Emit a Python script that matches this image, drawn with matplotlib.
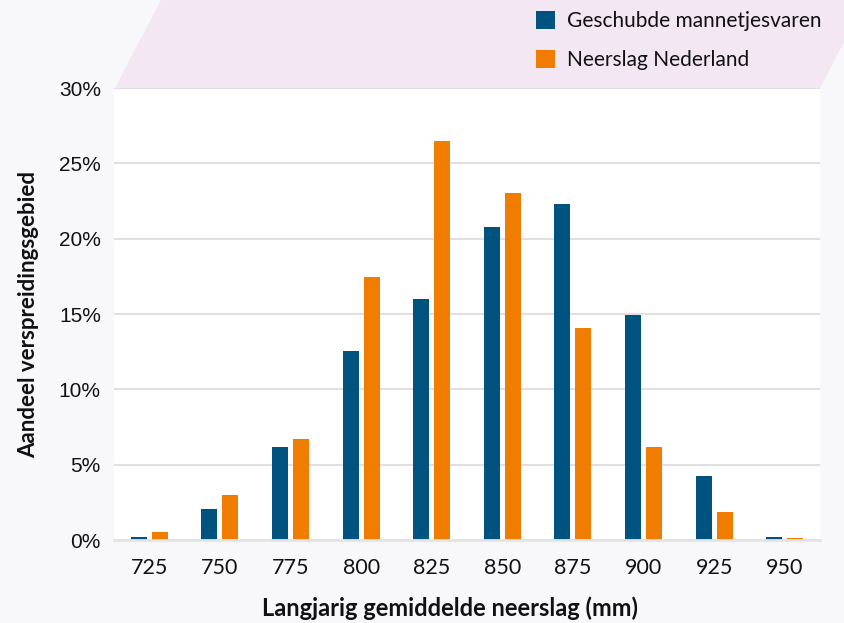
import numpy as np
from matplotlib import pyplot as plt
from matplotlib.patches import Polygon
from matplotlib.ticker import FuncFormatter

plt.rcParams['font.family'] = ['Lato', 'DejaVu Sans']

categorieen = ['725', '750', '775', '800', '825', '850', '875', '900', '925', '950']
varen = [0.2, 2.05, 6.2, 12.55, 16.0, 20.75, 22.3, 14.95, 4.25, 0.2]
neerslag = [0.55, 3.0, 6.7, 17.45, 26.5, 23.0, 14.05, 6.15, 1.85, 0.15]
labels = ['Geschubde mannetjesvaren', 'Neerslag Nederland']
yticks = [0, 5, 10, 15, 20, 25, 30]

blauw = '#00527f'
oranje = '#f07c00'

W, H = 844, 623
fig = plt.figure(figsize=(W/100, H/100), dpi=100)
fig.patch.set_facecolor('#f8f8fb')

# lavendel band achter de legenda
band = Polygon([(161/W, 1), (115/W, 1-88/H), (820/W, 1-88/H), (866/W, 1)],
               closed=True, transform=fig.transFigure, facecolor='#f3e7f3',
               edgecolor='none', zorder=-1)
fig.patches.append(band)

ax = fig.add_axes([114/W, 1-540/H, 706/W, 452/H])
ax.set_facecolor('white')

x = np.arange(len(categorieen))
b = 0.227
b1 = ax.bar(x-0.149, varen, width=b, color=blauw, zorder=3)
b2 = ax.bar(x+0.149, neerslag, width=b, color=oranje, zorder=3)

ax.set_xlim(-0.5, len(categorieen)-0.5)
ax.set_ylim(0, 30)
ax.set_yticks(yticks)
ax.yaxis.set_major_formatter(FuncFormatter(lambda v, p: '%d%%' % v))
ax.set_xticks(x)
ax.set_xticklabels(categorieen)
ax.grid(axis='y', color='#e0e0e0', linewidth=1.5, zorder=0)
ax.tick_params(length=0, colors='#111111')
ax.tick_params(axis='x', pad=13, labelsize=15.5)
ax.tick_params(axis='y', pad=9.5, labelsize=15)
for t in ax.get_yticklabels():
    t.set_family(['Liberation Sans', 'DejaVu Sans'])
for s in ['top', 'right', 'left']:
    ax.spines[s].set_visible(False)
ax.spines['bottom'].set_color('#e4e4e4')
ax.spines['bottom'].set_linewidth(2)
ax.spines['bottom'].set_zorder(4)

ax.set_xlabel('Langjarig gemiddelde neerslag (mm)', fontsize=17, fontweight='bold',
              color='#111111', labelpad=12)
ax.xaxis.set_label_coords((450-114)/706, -0.125)
ax.set_ylabel('Aandeel verspreidingsgebied', fontsize=16, fontweight='bold',
              color='#111111', labelpad=14)

leg = ax.legend([b1, b2], labels, loc='upper left', bbox_to_anchor=(528/W, 1-3/H),
                bbox_transform=fig.transFigure, frameon=False, fontsize=15,
                handlelength=0.9, handleheight=0.9, handletextpad=0.55,
                labelspacing=0.9, borderaxespad=0)
for t in leg.get_texts():
    t.set_color('#111111')

fig.savefig('out.png', dpi=100, facecolor=fig.get_facecolor())
